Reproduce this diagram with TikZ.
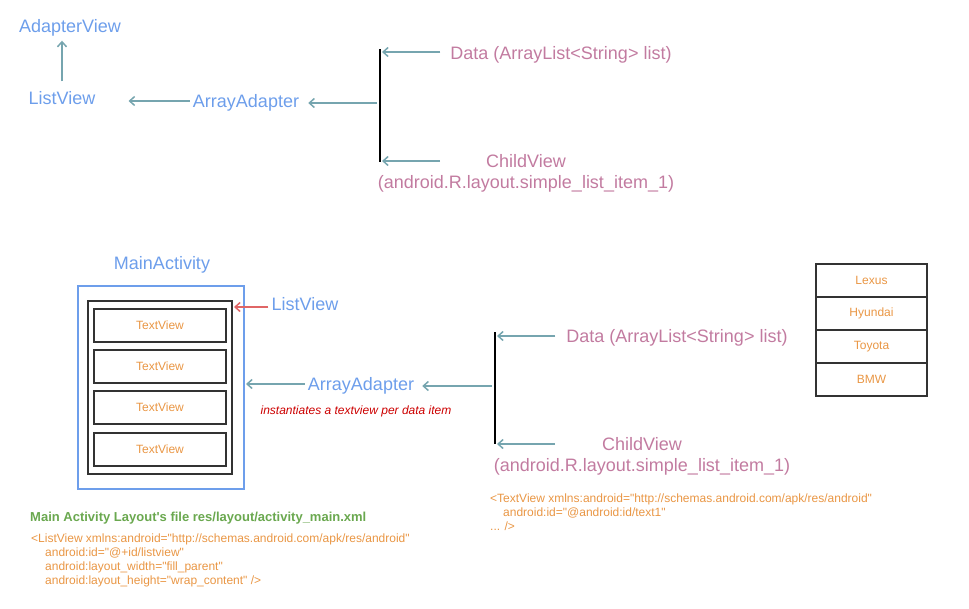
\documentclass[tikz,border=0pt]{standalone}
\usepackage{fontspec}
\newfontfamily\arialfont{Liberation Sans}
\definecolor{viewblue}{RGB}{109, 158, 235}
\definecolor{datapink}{RGB}{194, 123, 160}
\definecolor{arrowteal}{RGB}{118, 165, 175}
\definecolor{codeorange}{RGB}{233, 150, 68}
\definecolor{titlegreen}{RGB}{106, 168, 79}
\definecolor{noteRed}{RGB}{204, 0, 0}
\definecolor{listred}{RGB}{224, 102, 102}
\definecolor{boxgray}{RGB}{51, 51, 51}
\usetikzlibrary{arrows.meta, positioning, calc}

\begin{document}
\begin{tikzpicture}[x=1pt, y=-1pt,
  every node/.style={font=\arialfont},
  bigtxt/.style={font=\arialfont\fontsize{18}{21}\selectfont, inner sep=3pt},
  onelbl/.style={bigtxt, text height=15pt, text depth=2pt},
  viewlbl/.style={onelbl, text=viewblue},
  datalbl/.style={onelbl, text=datapink},
  childlbl/.style={bigtxt, text=datapink, align=center},
  smalltxt/.style={font=\arialfont\fontsize{12}{14}\selectfont, text=codeorange},
  rowbox/.style={draw=boxgray, line width=2pt, smalltxt},
  arr/.style={-{Straight Barb[length=5pt, width=9pt]}, line width=1.5pt, arrowteal},
  bar/.style={line width=2pt, black}]
  \useasboundingbox (0,0) rectangle (969,608);

  % Class chain (top)
  \node[viewlbl] (adapterview) at (70,26) {AdapterView};
  \node[viewlbl] (listview) at (62,98) {ListView};
  \node[viewlbl] (adapter) at (246,101) {ArrayAdapter};
  \draw[arr, shorten <=5pt, shorten >=3pt] (listview.north) -- (listview.north |- adapterview.south);
  \draw[arr, shorten >=30pt] (adapter.west) -- (listview.east |- adapter.west);

  \coordinate (bartop) at (380,49);
  \coordinate (barbot) at (380,162);
  \draw[bar] (bartop) -- (barbot);
  \node[datalbl] (data) at (561,53) {Data (ArrayList<String> list)};
  \node[childlbl] (child) at (526,173) {ChildView\\(android.R.layout.simple\_list\_item\_1)};
  \coordinate (childarr) at (440,161);
  \coordinate (adaptarr) at (377,103);
  \draw[arr, shorten >=6pt] (adaptarr) -- (adaptarr -| adapter.east);
  \draw[arr, shorten <=7pt, shorten >=2pt] ([yshift=1pt]data.west) -- ([yshift=1pt]data.west -| bartop);
  \draw[arr, shorten >=2pt] (childarr) -- (childarr -| bartop);

  % MainActivity layout (bottom)
  \node[viewlbl] (mainact) at (162,263) {MainActivity};
  \node[draw=viewblue, line width=2pt, minimum width=166pt, minimum height=203pt] (activity) at (161,387.5) {};
  \node[draw=boxgray, line width=2pt, minimum width=144pt, minimum height=173pt] (listbox) at (160,387.5) {};
  \foreach \y [count=\i] in {325.5, 366.5, 407.5, 449}
    \node[rowbox, minimum width=132pt, minimum height=33pt] (tv\i) at (160,\y) {TextView};

  \node[viewlbl] (listlbl) at (305,304) {ListView};
  \draw[arr, listred, shorten >=1pt] ([yshift=-3pt]listlbl.west) -- ([yshift=-3pt]listlbl.west -| listbox.east);
  \node[viewlbl] (adapter2) at (361,384) {ArrayAdapter};
  \draw[arr, shorten >=1pt] (adapter2.west) -- (adapter2.west -| activity.east);
  \node[font=\arialfont\itshape\fontsize{12}{14}\selectfont, text=noteRed] (note) at (356,411) {instantiates a textview per data item};

  \coordinate (bar2top) at (495,332);
  \coordinate (bar2bot) at (495,444);
  \draw[bar] (bar2top) -- (bar2bot);
  \node[datalbl] (data2) at (677,336) {Data (ArrayList<String> list)};
  \node[childlbl] (child2) at (642,456) {ChildView\\(android.R.layout.simple\_list\_item\_1)};
  \coordinate (child2arr) at (555,444);
  \coordinate (adapt2arr) at (492,386);
  \draw[arr, shorten >=5pt] (adapt2arr) -- (adapt2arr -| adapter2.east);
  \draw[arr, shorten <=8pt, shorten >=2pt] (data2.west) -- (data2.west -| bar2top);
  \draw[arr, shorten >=2pt] (child2arr) -- (child2arr -| bar2top);

  % Data items
  \foreach \car [count=\i] in {Lexus, Hyundai, Toyota, BMW}
    \node[rowbox, minimum width=111pt, minimum height=33pt] (car\i) at (871.5,{247.5+33*\i}) {\car};

  % XML snippets
  \node[smalltxt, anchor=north west, align=left, inner sep=0pt] (tvcode) at (490,493.5)
    {<TextView xmlns:android="http://schemas.android.com/apk/res/android"\\
     \hspace*{13pt}android:id="@android:id/text1"\\
     ... />};
  \node[font=\arialfont\bfseries\fontsize{13}{15}\selectfont, text=titlegreen, anchor=west, inner sep=0pt] (layouttitle) at (30,518)
    {Main Activity Layout's file res/layout/activity\_main.xml};
  \node[smalltxt, anchor=north west, align=left, inner sep=0pt] (lvcode) at (31,533.5)
    {<ListView xmlns:android="http://schemas.android.com/apk/res/android"\\
     \hspace*{14pt}android:id="@+id/listview"\\
     \hspace*{14pt}android:layout\_width="fill\_parent"\\
     \hspace*{14pt}android:layout\_height="wrap\_content" />};
\end{tikzpicture}
\end{document}
